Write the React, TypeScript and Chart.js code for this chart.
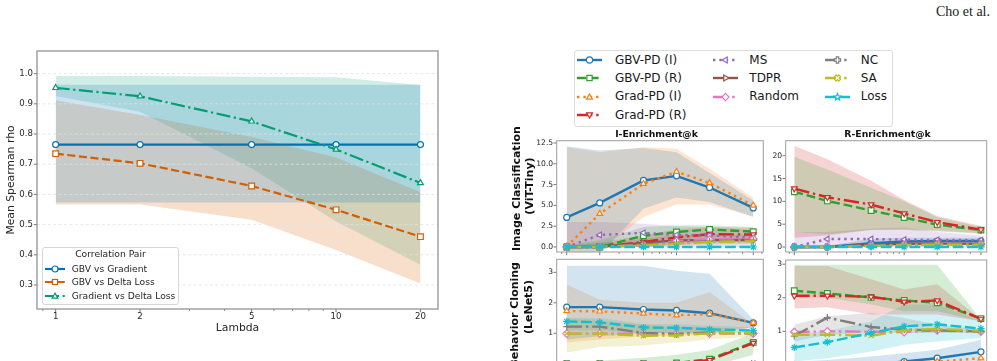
import React, { useEffect, useRef } from 'react';
import { Chart, registerables } from 'chart.js';
Chart.register(...registerables);

const FONT = 'DejaVu Sans';

// ---------------- Left chart data ----------------
const lambdas = [1, 2, 5, 10, 20];
const gbvVsGradient = [0.765, 0.765, 0.765, 0.765, 0.765];
const gbvVsGradientLow = [0.573, 0.573, 0.573, 0.573, 0.573];
const gbvVsGradientHigh = [0.963, 0.963, 0.963, 0.963, 0.963];
const gbvVsDeltaLoss = [0.735, 0.703, 0.628, 0.549, 0.46];
const gbvVsDeltaLossLow = [0.567, 0.567, 0.516, 0.416, 0.305];
const gbvVsDeltaLossHigh = [0.912, 0.863, 0.79, 0.722, 0.607];
const gradVsDeltaLoss = [0.953, 0.925, 0.842, 0.749, 0.638];
const gradVsDeltaLossLow = [0.926, 0.874, 0.687, 0.51, 0.367];
const gradVsDeltaLossHigh = [0.992, 0.992, 0.99, 0.988, 0.962];
const leftYTicks = [0.3, 0.4, 0.5, 0.6, 0.7, 0.8, 0.9, 1.0];
const leftXTicks = [1, 2, 5, 10, 20];
const leftXMinor = [0.9, 3, 4, 6, 7, 8, 9];
const leftLegendLabels = ['GBV vs Gradient', 'GBV vs Delta Loss', 'Gradient vs Delta Loss'];

// ---------------- Right figure data ----------------
const kValues = [1, 2, 5, 10, 20, 50];
const kMinor = [0.9, 3, 4, 6, 7, 8, 9, 30, 40, 60];
const seriesNames = ['GBV-PD (I)', 'GBV-PD (R)', 'Grad-PD (I)', 'Grad-PD (R)', 'MS', 'TDPR', 'Random', 'NC', 'SA', 'Loss'];

// rows follow seriesNames order
const vitIEnrich = [
  [3.55, 5.3, 8.0, 8.55, 7.15, 4.7],
  [0, 0, 1.35, 1.8, 2.1, 1.85],
  [0.05, 4.0, 7.6, 9.05, 7.7, 5.0],
  [0, 0, 0.6, 1.15, 1.55, 1.5],
  [0, 1.45, 1.7, 1.45, 1.4, 1.1],
  [0, 0, 0.5, 0.8, 0.85, 0.85],
  [0, 0, 0.2, 0.7, 0.9, 0.95],
  [0, 0, 0.3, 0.5, 0.7, 0.8],
  [0, 0, 0.2, 0.4, 0.6, 0.7],
  [0, 0, 0, 0, 0, 0],
];
const vitIEnrichLow = [
  [-1, -0.8, 4.6, 5.95, 5.4, 3.6],
  [0, 0, 0.4, 0.9, 1.2, 1.1],
  [-1, -0.5, 3.6, 5.1, 5.1, 3.7],
  [0, 0, 0, 0.3, 0.6, 0.6],
  [0, 0, 0, 0, 0, 0],
  [0, 0, 0, 0.2, 0.3, 0.4],
  null, null, null, null,
];
const vitIEnrichHigh = [
  [12.1, 11.6, 11.9, 11.4, 8.9, 5.6],
  [0.2, 0.8, 2.4, 2.6, 2.6, 2.4],
  [12.0, 11.4, 12.0, 11.8, 9.4, 5.9],
  [0.2, 0.5, 1.4, 2.1, 2.4, 2.3],
  [3.0, 3.0, 2.8, 2.5, 2.4, 2.0],
  [0.2, 0.3, 1.0, 1.4, 1.5, 1.4],
  null, null, null, null,
];

const vitREnrich = [
  [0, 0, 0.85, 1.2, 1.3, 1.3],
  [12.1, 10.1, 8.0, 6.45, 4.9, 3.7],
  [0, 0, 0.4, 0.6, 0.7, 0.6],
  [12.8, 10.9, 9.3, 7.35, 5.45, 3.8],
  [0, 1.75, 1.75, 1.6, 1.55, 1.5],
  [0, 0, 0.5, 0.7, 0.75, 0.7],
  [0, 0, 0.3, 0.5, 0.6, 0.6],
  [0, 0, 0.3, 0.5, 0.6, 0.6],
  [0, 0, 0.2, 0.4, 0.5, 0.5],
  [0, 0, 0, 0, 0, 0],
];
const vitREnrichLow = [
  [0, 0, 0.2, 0.5, 0.6, 0.7],
  [3.3, 2.8, 3.7, 3.7, 3.4, 2.9],
  null,
  [2.0, 2.5, 3.8, 3.9, 3.6, 3.0],
  [0, 0, 0, 0, 0, 0],
  null, null, null, null, null,
];
const vitREnrichHigh = [
  [0.1, 0.3, 1.8, 2.0, 2.0, 2.0],
  [19.8, 17.0, 13.0, 10.0, 6.5, 4.4],
  null,
  [22.2, 19.2, 14.5, 10.3, 6.8, 4.6],
  [3.3, 3.3, 4.0, 4.3, 3.3, 2.5],
  null, null, null, null, null,
];

const bcIEnrich = [
  [1.86, 1.86, 1.78, 1.75, 1.66, 1.34],
  [0, 0, 0, 0.03, 0.15, 0.7],
  [1.73, 1.72, 1.65, 1.59, 1.63, 1.35],
  [0, 0, 0, 0.02, 0.12, 0.68],
  [0, 0, 0, 0, 0, 0],
  [0, 0, 0, 0, 0, 0],
  [0.99, 0.99, 0.99, 0.99, 0.99, 0.99],
  [1.22, 1.22, 1.01, 0.98, 1.03, 1.0],
  [0.99, 0.99, 0.92, 0.93, 1.0, 1.0],
  [1.39, 1.36, 1.19, 1.18, 1.13, 1.09],
];
const bcIEnrichLow = [
  [0.8, 0.9, 1.0, 1.0, 1.0, 1.2],
  [-0.3, -0.3, -0.3, -0.2, -0.1, 0.3],
  [0.7, 0.8, 0.9, 0.9, 1.0, 1.2],
  null, null, null, null, null,
  [0.37, 0.55, 0.6, 0.7, 0.8, 0.9],
  [1.1, 1.1, 1.0, 1.0, 1.0, 1.0],
];
const bcIEnrichHigh = [
  [3.22, 3.22, 3.22, 3.05, 2.95, 1.45],
  [0.1, 0.1, 0.2, 0.3, 0.45, 1.0],
  [2.6, 2.1, 2.0, 2.0, 2.35, 1.3],
  null, null, null, null, null,
  [1.5, 1.4, 1.3, 1.2, 1.2, 1.1],
  [1.5, 1.5, 1.3, 1.3, 1.25, 1.2],
];

const bcREnrich = [
  [0, 0, 0, 0.1, 0.2, 0.39],
  [2.21, 2.13, 2.01, 1.92, 1.85, 1.38],
  [0, 0, 0, 0.05, 0.1, 0.2],
  [2.06, 2.06, 2.03, 1.88, 1.92, 1.37],
  [0, 0, 0, 0, 0, 0],
  [0, 0, 0, 0, 0, 0],
  [0.98, 1.0, 0.99, 0.98, 1.03, 0.99],
  [0.86, 1.41, 1.13, 1.05, 1.03, 1.0],
  [0.9, 0.9, 0.87, 1.03, 1.07, 1.02],
  [0.52, 0.68, 0.95, 1.15, 1.21, 1.08],
];
const bcREnrichLow = [
  [-0.3, -0.3, -0.3, -0.3, -0.3, 0.0],
  [2.0, 2.0, 1.8, 1.6, 1.6, 1.3],
  null,
  [1.68, 1.72, 1.5, 1.5, 1.5, 1.3],
  null, null, null,
  [0.7, 0.9, 0.95, 0.95, 0.95, 0.95],
  null,
  [0.1, 0.2, 0.4, 0.6, 0.7, 0.8],
];
const bcREnrichHigh = [
  [0.1, 0.15, 0.25, 0.35, 0.45, 0.75],
  [2.98, 2.98, 2.98, 2.98, 2.98, 1.35],
  null,
  [2.95, 2.95, 2.55, 2.25, 2.4, 1.35],
  null, null, null,
  [1.2, 1.45, 1.55, 1.4, 1.2, 1.05],
  null,
  [0.9, 1.0, 1.3, 1.8, 1.8, 1.3],
];

// ---------------- Styles ----------------
const DASH = { solid: [], dashed: [3.7, 1.6], dashdot: [6.4, 1.6, 1, 1.6], dotted: [1, 1.65], long: [4.5, 1.5] };
const seriesStyles = [
  { color: '#1f77b4', dash: DASH.solid, marker: 'circle', rot: 0 },
  { color: '#2ca02c', dash: DASH.dashed, marker: 'rect', rot: 0 },
  { color: '#ff7f0e', dash: DASH.dotted, marker: 'tri', rot: 0 },
  { color: '#d62728', dash: DASH.dashdot, marker: 'tri', rot: 180 },
  { color: '#9467bd', dash: DASH.dotted, marker: 'tri', rot: -90 },
  { color: '#8c564b', dash: DASH.solid, marker: 'tri', rot: 90 },
  { color: '#e377c2', dash: DASH.dashdot, marker: 'diamond', rot: 0 },
  { color: '#7f7f7f', dash: DASH.dashdot, marker: 'plus', rot: 0 },
  { color: '#bcbd22', dash: DASH.dashdot, marker: 'x', rot: 0 },
  { color: '#17becf', dash: DASH.long, marker: 'star', rot: 0 },
];
const leftStyles = [
  { color: '#0173b2', dash: DASH.solid, marker: 'circle', rot: 0 },
  { color: '#d55e00', dash: DASH.dashed, marker: 'rect', rot: 0 },
  { color: '#029e73', dash: DASH.dashdot, marker: 'tri', rot: 0 },
];

function rgba(hex: string, a: number) {
  const n = parseInt(hex.slice(1), 16);
  return `rgba(${(n >> 16) & 255},${(n >> 8) & 255},${n & 255},${a})`;
}
function pts(xs: number[], ys: number[]) {
  return xs.map((x, i) => ({ x, y: ys[i] }));
}
const cjsStyle: any = { circle: 'circle', rect: 'rect', tri: 'triangle', diamond: 'rectRot', plus: 'cross', x: 'crossRot', star: 'star' };
const cjsRadius: any = { circle: 3, rect: 4, tri: 3.3, diamond: 3.8, plus: 3.5, x: 3.5, star: 3.6 };

function lineDs(label: string, xs: number[], ys: number[], st: any, lw: number) {
  return {
    label,
    data: pts(xs, ys),
    borderColor: st.color,
    borderWidth: lw,
    borderDash: st.dash.map((d: number) => d * lw),
    borderCapStyle: 'butt',
    pointStyle: cjsStyle[st.marker],
    pointRotation: st.rot,
    pointRadius: cjsRadius[st.marker],
    pointBackgroundColor: '#ffffff',
    pointBorderColor: st.color,
    pointBorderWidth: 1.2,
    fill: false,
    tension: 0,
  };
}
function bandDs(xs: number[], lo: number[], hi: number[], color: string, a: number) {
  return [
    { data: pts(xs, hi), fill: '+1', backgroundColor: rgba(color, a), borderColor: 'rgba(0,0,0,0)', borderWidth: 0, pointRadius: 0, tension: 0 },
    { data: pts(xs, lo), fill: false, borderColor: 'rgba(0,0,0,0)', borderWidth: 0, pointRadius: 0, tension: 0 },
  ];
}

function mplAxes(cfg: any) {
  return {
    id: 'mplAxes',
    beforeDatasetsDraw(chart: any) {
      if (!cfg.grid) return;
      const { ctx, chartArea: a } = chart;
      const y = chart.scales.y;
      ctx.save();
      ctx.strokeStyle = '#e2e2e2';
      ctx.lineWidth = 0.8;
      ctx.setLineDash([3, 2.4]);
      cfg.yMajor.forEach((v: number) => {
        const p = y.getPixelForValue(v);
        ctx.beginPath();
        ctx.moveTo(a.left, p);
        ctx.lineTo(a.right, p);
        ctx.stroke();
      });
      ctx.restore();
    },
    afterDatasetsDraw(chart: any) {
      const { ctx, chartArea: a } = chart;
      const x = chart.scales.x;
      const y = chart.scales.y;
      ctx.save();
      ctx.strokeStyle = cfg.tick;
      ctx.lineWidth = 0.8;
      const vt = (v: number, len: number) => {
        const p = x.getPixelForValue(v);
        if (p < a.left - 0.5 || p > a.right + 0.5) return;
        ctx.beginPath();
        ctx.moveTo(p, a.bottom);
        ctx.lineTo(p, a.bottom + len);
        ctx.stroke();
      };
      cfg.xMajor.forEach((v: number) => vt(v, cfg.major));
      cfg.xMinor.forEach((v: number) => vt(v, cfg.minor));
      cfg.yMajor.forEach((v: number) => {
        const p = y.getPixelForValue(v);
        ctx.beginPath();
        ctx.moveTo(a.left, p);
        ctx.lineTo(a.left - cfg.major, p);
        ctx.stroke();
      });
      ctx.strokeStyle = cfg.frame;
      ctx.lineWidth = cfg.frameW;
      ctx.strokeRect(a.left, a.top, a.right - a.left, a.bottom - a.top);
      ctx.restore();
    },
  };
}

function makeConfig(p: any) {
  const { W, H, area } = p;
  return {
    type: 'line',
    data: { datasets: p.datasets },
    options: {
      responsive: false,
      animation: false,
      events: [],
      devicePixelRatio: 1,
      layout: { padding: { left: 0, top: area.t, right: W - area.r, bottom: 0 } },
      plugins: {
        legend: { display: false },
        tooltip: { enabled: false },
        title: { display: false },
        filler: { drawTime: 'beforeDatasetsDraw', propagate: false },
      },
      scales: {
        x: {
          type: 'logarithmic',
          position: 'bottom',
          min: p.xMin,
          max: p.xMax,
          grid: { display: false, drawTicks: false },
          border: { display: false },
          ticks: {
            display: p.showX,
            autoSkip: false,
            maxRotation: 0,
            minRotation: 0,
            padding: 3,
            color: '#262626',
            font: { family: FONT, size: p.tickFont },
            callback: (v: any) => String(v),
          },
          title: p.xTitle
            ? { display: true, text: p.xTitle, color: '#262626', font: { family: FONT, size: 10.8 }, padding: { top: 0, bottom: 26.5 } }
            : { display: false },
          afterBuildTicks: (s: any) => {
            s.ticks = p.xMajor.map((v: number) => ({ value: v }));
          },
          afterFit: (s: any) => {
            s.height = H - area.b;
          },
        },
        y: {
          type: 'linear',
          position: 'left',
          min: p.yMin,
          max: p.yMax,
          grid: { display: false, drawTicks: false },
          border: { display: false },
          ticks: {
            padding: p.yPad,
            color: '#262626',
            font: { family: FONT, size: p.tickFont },
            callback: p.yFmt,
          },
          title: p.yTitle
            ? { display: true, text: p.yTitle, color: '#262626', font: { family: FONT, size: 10.8 }, padding: { top: 5.2, bottom: 0 } }
            : { display: false },
          afterBuildTicks: (s: any) => {
            s.ticks = p.yTicks.map((v: number) => ({ value: v }));
          },
          afterFit: (s: any) => {
            s.width = area.l;
          },
        },
      },
    },
    plugins: [
      mplAxes({
        grid: p.grid,
        xMajor: p.xMajor,
        xMinor: p.xMinor,
        yMajor: p.yTicks,
        tick: p.tickColor,
        frame: p.frame,
        frameW: p.frameW,
        major: 3.2,
        minor: 1.8,
      }),
    ],
  };
}

function buildLeft() {
  const lw = 2.2;
  const datasets = [
    lineDs(leftLegendLabels[2], lambdas, gradVsDeltaLoss, leftStyles[2], lw),
    lineDs(leftLegendLabels[1], lambdas, gbvVsDeltaLoss, leftStyles[1], lw),
    lineDs(leftLegendLabels[0], lambdas, gbvVsGradient, leftStyles[0], lw),
    ...bandDs(lambdas, gbvVsGradientLow, gbvVsGradientHigh, leftStyles[0].color, 0.2),
    ...bandDs(lambdas, gbvVsDeltaLossLow, gbvVsDeltaLossHigh, leftStyles[1].color, 0.2),
    ...bandDs(lambdas, gradVsDeltaLossLow, gradVsDeltaLossHigh, leftStyles[2].color, 0.18),
  ];
  return makeConfig({
    W: 460, H: 361, area: { l: 37, t: 51, r: 438, b: 309 },
    xMin: 0.858, xMax: 23.1, xMajor: leftXTicks, xMinor: leftXMinor,
    yMin: 0.2205, yMax: 1.075, yTicks: leftYTicks, yFmt: (v: any) => Number(v).toFixed(1),
    showX: true, xTitle: 'Lambda', yTitle: 'Mean Spearman rho', grid: true,
    tickFont: 8.6, yPad: 4, tickColor: '#555', frame: '#8a8a8a', frameW: 1.2, datasets,
  });
}

function buildPanel(vals: any[], lows: any[], highs: any[], geo: any) {
  const lw = 2.4;
  const lines = vals.map((ys: number[], i: number) => lineDs(seriesNames[i], kValues, ys, seriesStyles[i], lw)).reverse();
  const bands: any[] = [];
  lows.forEach((lo: any, i: number) => {
    if (lo && highs[i]) bands.push(...bandDs(kValues, lo, highs[i], seriesStyles[i].color, 0.2));
  });
  return makeConfig({
    ...geo,
    xMajor: kValues, xMinor: kMinor, showX: false, grid: false,
    tickFont: 7.6, yPad: 3.5, tickColor: '#555', frame: '#9d9d9d', frameW: 1,
    datasets: [...lines, ...bands],
  });
}

function ChartCanvas({ left, top, width, height, build }: any) {
  const ref = useRef<HTMLCanvasElement>(null);
  useEffect(() => {
    const chart = new Chart(ref.current as any, build() as any);
    return () => chart.destroy();
  }, []);
  return (
    <canvas
      ref={ref}
      width={width}
      height={height}
      style={{ position: 'absolute', left, top, width, height, display: 'block' }}
    />
  );
}

// ---------- SVG legend handles ----------
function polyPts(cx: number, cy: number, rs: number[], rotDeg: number) {
  const n = rs.length;
  const out: string[] = [];
  for (let k = 0; k < n; k++) {
    const ang = ((rotDeg - 90 + (k * 360) / n) * Math.PI) / 180;
    out.push(`${(cx + rs[k] * Math.cos(ang)).toFixed(2)},${(cy + rs[k] * Math.sin(ang)).toFixed(2)}`);
  }
  return out.join(' ');
}
function plusPts(cx: number, cy: number, r: number, rot: number) {
  const t = r * 0.38;
  const base = [
    [-t, -r], [t, -r], [t, -t], [r, -t], [r, t], [t, t], [t, r], [-t, r], [-t, t], [-r, t], [-r, -t], [-t, -t],
  ];
  const a = (rot * Math.PI) / 180;
  return base
    .map(([x, y]) => `${(cx + x * Math.cos(a) - y * Math.sin(a)).toFixed(2)},${(cy + x * Math.sin(a) + y * Math.cos(a)).toFixed(2)}`)
    .join(' ');
}
function Marker({ kind, rot, cx, cy, r, color }: any) {
  const c = { fill: '#fff', stroke: color, strokeWidth: 1.2 };
  if (kind === 'circle') return <circle cx={cx} cy={cy} r={r} {...c} />;
  if (kind === 'rect') return <rect x={cx - r * 0.85} y={cy - r * 0.85} width={r * 1.7} height={r * 1.7} {...c} />;
  if (kind === 'tri') return <polygon points={polyPts(cx, cy + (rot === 0 ? r * 0.15 : rot === 180 ? -r * 0.15 : 0), [r * 1.1, r * 1.1, r * 1.1], rot)} {...c} />;
  if (kind === 'diamond') return <polygon points={polyPts(cx, cy, [r * 1.15, r * 1.15, r * 1.15, r * 1.15], 0)} {...c} />;
  if (kind === 'plus') return <polygon points={plusPts(cx, cy, r, 0)} {...c} />;
  if (kind === 'x') return <polygon points={plusPts(cx, cy, r, 45)} {...c} />;
  if (kind === 'star') {
    const rs: number[] = [];
    for (let k = 0; k < 10; k++) rs.push(k % 2 === 0 ? r * 1.15 : r * 0.5);
    return <polygon points={polyPts(cx, cy, rs, 0)} {...c} />;
  }
  return null;
}
function Handle({ x, y, w, st, lw, r }: any) {
  const h = 14;
  return (
    <svg width={w} height={h} style={{ position: 'absolute', left: x, top: y - h / 2, overflow: 'visible' }}>
      <line
        x1={0}
        y1={h / 2}
        x2={w}
        y2={h / 2}
        stroke={st.color}
        strokeWidth={lw}
        strokeDasharray={st.dash.length ? st.dash.map((d: number) => d * lw).join(' ') : undefined}
      />
      <Marker kind={st.marker} rot={st.rot} cx={w / 2} cy={h / 2} r={r} color={st.color} />
    </svg>
  );
}

function Txt({ x, y, text, size, weight = 'normal', align = 'left', family = FONT, color = '#222' }: any) {
  const lh = Math.round(size * 1.25);
  const W = 400;
  const left = align === 'left' ? x : align === 'center' ? x - W / 2 : x - W;
  return (
    <div
      style={{
        position: 'absolute', left, top: y - lh / 2, width: W, height: lh, lineHeight: `${lh}px`,
        fontSize: size, fontWeight: weight, fontFamily: family, color, textAlign: align, whiteSpace: 'nowrap',
      }}
    >
      {text}
    </div>
  );
}
// rotated -90deg text; anchor: 'start' => y is bottom end, 'end' => y is top end, 'center' => y is middle
function RotTxt({ x, y, text, size, anchor = 'center' }: any) {
  const lh = Math.round(size * 1.25);
  const W = 300;
  const cy = anchor === 'start' ? y - W / 2 : anchor === 'end' ? y + W / 2 : y;
  const align = anchor === 'start' ? 'left' : anchor === 'end' ? 'right' : 'center';
  return (
    <div
      style={{
        position: 'absolute', left: x - W / 2, top: cy - lh / 2, width: W, height: lh, lineHeight: `${lh}px`,
        fontSize: size, fontWeight: 'bold', fontFamily: FONT, color: '#111', textAlign: align as any,
        whiteSpace: 'nowrap', transform: 'rotate(-90deg)', transformOrigin: '50% 50%',
      }}
    >
      {text}
    </div>
  );
}

export default function App() {
  const leftRows = [269, 282.3, 296];
  const rLegendRows = [60, 78.3, 96.7, 115];
  const rCols = [
    { hx: 577, tx: 615, idx: [0, 1, 2, 3] },
    { hx: 713, tx: 749.3, idx: [4, 5, 6] },
    { hx: 825, tx: 860.7, idx: [7, 8, 9] },
  ];
  return (
    <div
      style={{
        position: 'absolute', left: 0, top: 0, width: 997, height: 361, overflow: 'hidden',
        background: '#ffffff', fontFamily: FONT,
      }}
    >
      <ChartCanvas left={0} top={0} width={460} height={361} build={buildLeft} />
      <ChartCanvas
        left={500} top={128} width={270} height={250}
        build={() => buildPanel(vitIEnrich, vitIEnrichLow, vitIEnrichHigh, {
          W: 270, H: 250, area: { l: 56.7, t: 12.7, r: 263.3, b: 124 },
          xMin: 0.811, xMax: 61.7, yMin: -0.601, yMax: 12.776,
          yTicks: [0, 2.5, 5, 7.5, 10, 12.5], yFmt: (v: any) => Number(v).toFixed(1),
        })}
      />
      <ChartCanvas
        left={770} top={128} width={227} height={250}
        build={() => buildPanel(vitREnrich, vitREnrichLow, vitREnrichHigh, {
          W: 227, H: 250, area: { l: 15.7, t: 12.7, r: 216.7, b: 124 },
          xMin: 0.835, xMax: 56.4, yMin: -1.095, yMax: 23.29,
          yTicks: [0, 5, 10, 15, 20], yFmt: (v: any) => String(v),
        })}
      />
      <ChartCanvas
        left={500} top={250} width={270} height={130}
        build={() => buildPanel(bcIEnrich, bcIEnrichLow, bcIEnrichHigh, {
          W: 270, H: 130, area: { l: 56.7, t: 9.3, r: 263.3, b: 125 },
          xMin: 0.811, xMax: 61.7, yMin: -0.268, yMax: 3.428,
          yTicks: [1, 2, 3], yFmt: (v: any) => String(v),
        })}
      />
      <ChartCanvas
        left={770} top={250} width={227} height={130}
        build={() => buildPanel(bcREnrich, bcREnrichLow, bcREnrichHigh, {
          W: 227, H: 130, area: { l: 15.7, t: 10, r: 216.7, b: 125 },
          xMin: 0.835, xMax: 56.4, yMin: -0.209, yMax: 3.125,
          yTicks: [1, 2, 3], yFmt: (v: any) => String(v),
        })}
      />

      {/* Left legend */}
      <div
        style={{
          position: 'absolute', left: 42, top: 247, width: 137, height: 58, boxSizing: 'border-box',
          border: '1px solid #d6d6d6', borderRadius: 3, background: 'rgba(255,255,255,0.8)',
        }}
      />
      <Txt x={110.5} y={254.3} text="Correlation Pair" size={9.2} align="center" color="#262626" />
      {leftLegendLabels.map((lab, i) => (
        <React.Fragment key={lab}>
          <Handle x={45} y={leftRows[i]} w={20} st={leftStyles[i]} lw={2.2} r={3} />
          <Txt x={71.7} y={leftRows[i]} text={lab} size={9.2} color="#262626" />
        </React.Fragment>
      ))}

      {/* Page header */}
      <Txt x={990} y={12} text="Cho et al." size={14} align="right" family="'Liberation Serif', serif" color="#222" />

      {/* Right legend */}
      <div
        style={{
          position: 'absolute', left: 574, top: 50, width: 319, height: 77, boxSizing: 'border-box',
          border: '1px solid #dcdcdc', borderRadius: 3, background: '#fff',
        }}
      />
      {rCols.map((col) =>
        col.idx.map((si, row) => (
          <React.Fragment key={si}>
            <Handle x={col.hx} y={rLegendRows[row]} w={25} st={seriesStyles[si]} lw={2.4} r={3.1} />
            <Txt x={col.tx} y={rLegendRows[row]} text={seriesNames[si]} size={12} color="#1a1a1a" />
          </React.Fragment>
        ))
      )}

      {/* Subplot titles */}
      <Txt x={656.5} y={133.5} text="I-Enrichment@k" size={9.3} weight="bold" align="center" color="#111" />
      <Txt x={887.5} y={133.5} text="R-Enrichment@k" size={9.3} weight="bold" align="center" color="#111" />

      {/* Row labels */}
      <RotTxt x={517} y={251} text="Image Classification" size={11} anchor="start" />
      <RotTxt x={530} y={186} text="(ViT-Tiny)" size={11} anchor="center" />
      <RotTxt x={515} y={262} text="Behavior Cloning" size={11} anchor="end" />
      <RotTxt x={528.5} y={307} text="(LeNet5)" size={11} anchor="center" />
    </div>
  );
}
